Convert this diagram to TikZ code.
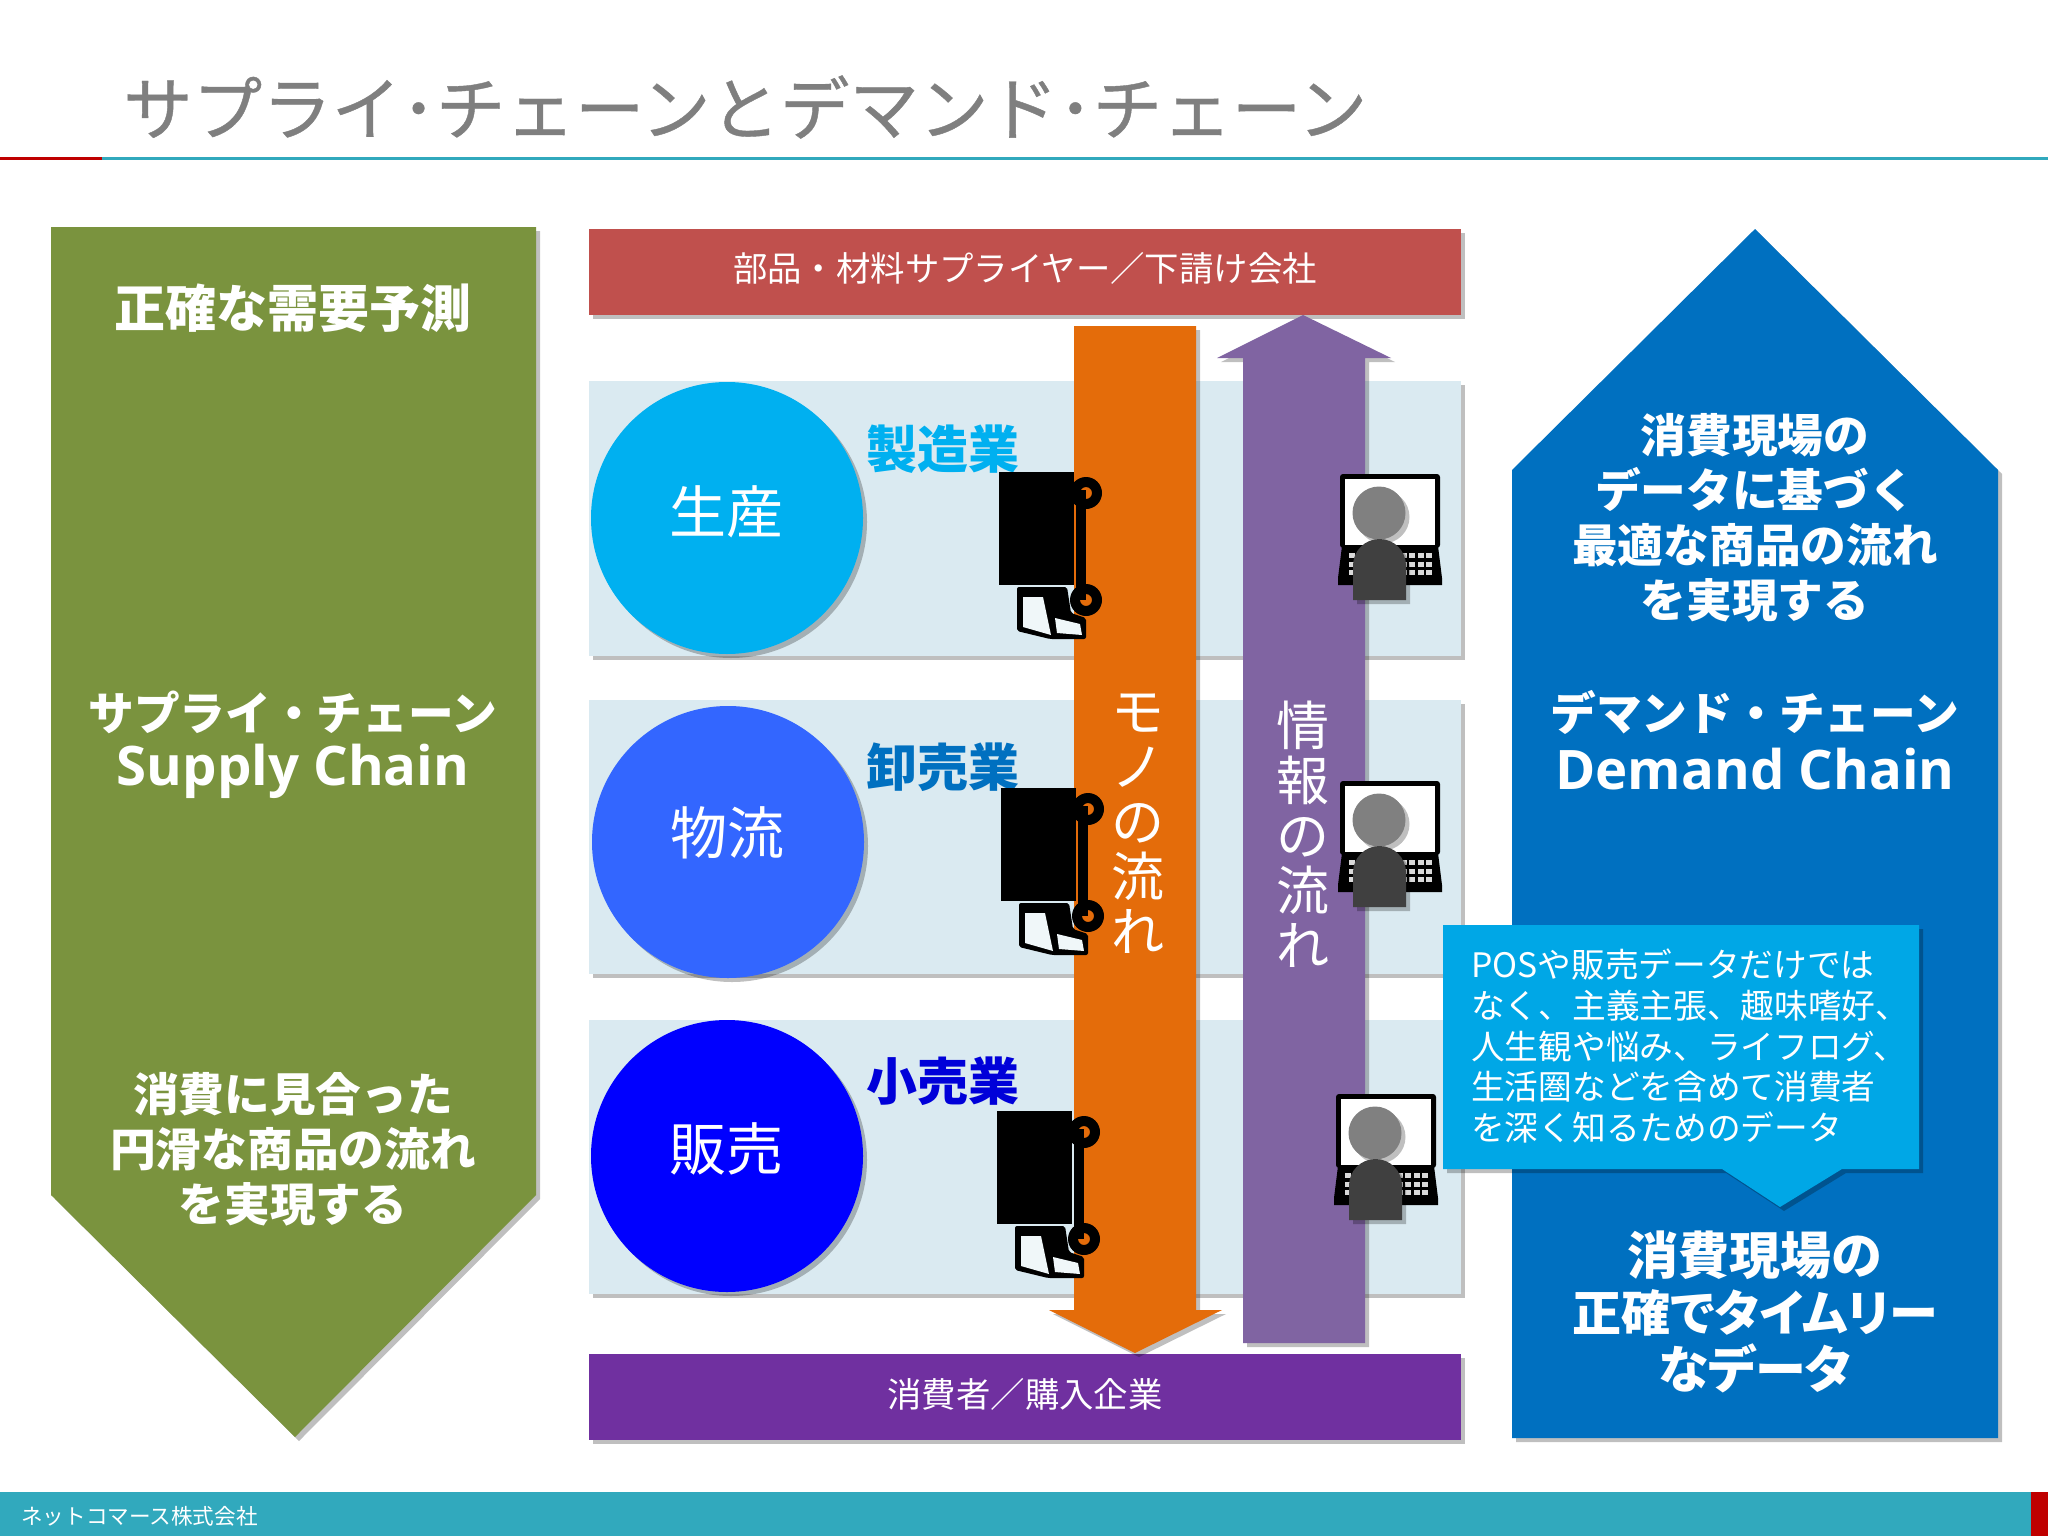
\documentclass[tikz,border=0pt]{standalone}
\usepackage{fontspec}
\setmainfont{Noto Sans CJK JP}
\newfontfamily\latb{Open Sans}
\newfontfamily\pf{Noto Sans CJK JP}[RawFeature=+palt]
\newfontfamily\titlef{Noto Sans CJK JP}[FakeBold=0.6]
\usetikzlibrary{shadows}
\definecolor{cgreen}{HTML}{7A933E}
\definecolor{cred}{HTML}{C0504D}
\definecolor{cpanel}{HTML}{DAEAF1}
\definecolor{cpurple}{HTML}{7030A0}
\definecolor{cblue}{HTML}{0070C0}
\definecolor{corange}{HTML}{E46C0A}
\definecolor{cviolet}{HTML}{8064A2}
\definecolor{ccall}{HTML}{00A7E6}
\definecolor{cteal}{HTML}{31A9BD}
\definecolor{ctitle}{HTML}{7F7F7F}
\definecolor{c1}{HTML}{00B0F0}
\definecolor{c2}{HTML}{3366FF}
\definecolor{c3}{HTML}{0000FF}
\tikzset{
  sh/.style={drop shadow={shadow xshift=4pt,shadow yshift=-4pt,fill=black,opacity=.25}},
  wt/.style={text=white,align=center,inner sep=0pt},
  big/.style={wt,font=\fontsize{45.7}{55}\selectfont\bfseries},
  low/.style={wt,font=\fontsize{51}{57}\selectfont\pf\bfseries},
  bar/.style={wt,font=\fontsize{34.4}{40}\selectfont},
  circ/.style={wt,font=\fontsize{57}{60}\selectfont},
  ind/.style={inner sep=0pt,font=\fontsize{51}{55}\selectfont\bfseries},
  vert/.style={wt,font=\fontsize{53}{55}\selectfont},
  latin/.style={wt,font=\fontsize{54.5}{55}\selectfont\latb\bfseries},
  truck/.pic={
    \fill[black] (999,472) rectangle (1074,585);
    \fill[black] (1076,490) rectangle (1086,600);
    \fill[black,even odd rule] (1086,493) circle (16) (1086,493) circle (6);
    \fill[black,even odd rule] (1086,600) circle (16) (1086,600) circle (6);
    \fill[black,rounded corners=2pt] (1017,587) -- (1067,587) -- (1071,613) -- (1086,618) -- (1086,639) -- (1050,639) -- (1017,631) -- cycle;
    \fill[cpanel!40!white] (1023,597) -- (1043,597) -- (1051,635) -- (1023,627) -- cycle;
    \fill[cpanel!40!white] (1055,618) -- (1080,624) -- (1082,635) -- (1057,633) -- cycle;
  },
  laptop/.pic={
    \fill[black,rounded corners=3pt] (1340,474) rectangle (1440,548);
    \fill[white] (1345,479) rectangle (1435,545);
    \fill[black] (1342,546) -- (1438,546) -- (1442,578) -- (1442,585) -- (1338,585) -- (1338,578) -- cycle;
    \foreach \yy in {553,562,570} {
      \foreach \c in {0,...,9} {
        \fill[white!85!black] ({1349+\c*8.6},\yy) rectangle ++(6,5);
      }
    }
    \fill[gray,sh] (1379,513) circle (26.5);
    \fill[black!75,sh] (1353,600) -- (1353,565.5) arc[start angle=180,end angle=360,radius=26.5] -- (1406,600) -- cycle;
  }
}
\begin{document}
\begin{tikzpicture}[x=1pt,y=-1pt]
\useasboundingbox (0,0) rectangle (2048,1536);
\fill[white] (0,0) rectangle (2048,1536);
% title
\node[anchor=west,inner sep=0pt,text=ctitle,font=\fontsize{69.5}{80}\selectfont\titlef] (title) at (123,107) {サプライ･チェーンとデマンド･チェーン};
\fill[cteal] (102,157) rectangle (2048,160);
\fill[red!75!black] (0,157) rectangle (102,160);
% footer
\fill[cteal] (0,1492) rectangle (2048,1536);
\fill[red!75!black] (2031,1492) rectangle (2048,1536);
\node[anchor=west,inner sep=0pt,text=white,font=\fontsize{21.6}{26}\selectfont] (foot) at (21,1516) {ネットコマース株式会社};
% left arrow
\fill[cgreen,sh] (51,227) -- (536,227) -- (536,1195) -- (295,1437) -- (51,1195) -- cycle;
\node[wt,font=\fontsize{51}{55}\selectfont\bfseries] (l1) at (293,308) {正確な需要予測};
\node[big] (l2) at (293,712) {サプライ・チェーン};
\node[latin] (l3) at (293,771) {Supply Chain};
\node[big] (l4) at (293,1149) {消費に見合った\\円滑な商品の流れ\\を実現する};
% bars
\fill[cred,sh] (589,229) rectangle (1461,315);
\node[bar] (b1) at (1025,268) {部品・材料サプライヤー／下請け会社};
\fill[cpurple,sh] (589,1354) rectangle (1461,1440);
\node[bar] (b2) at (1025,1394) {消費者／購入企業};
% panels
\fill[cpanel,sh] (589,381) rectangle (1461,656);
\fill[cpanel,sh] (589,700) rectangle (1461,974);
\fill[cpanel,sh] (589,1020) rectangle (1461,1294);
% circles
\fill[c1,sh] (727,518) circle (136);
\fill[c2,sh] (728,842) circle (136);
\fill[c3,sh] (727,1156) circle (136);
\node[circ] (c-a) at (726,512) {生産};
\node[circ] (c-b) at (727,833) {物流};
\node[circ] (c-c) at (726,1149) {販売};
\node[ind,text=c1] (i1) at (943,449) {製造業};
\node[ind,text=cblue] (i2) at (943,767) {卸売業};
\node[ind,text=blue!85!black] (i3) at (943,1081) {小売業};
% big arrows
\fill[corange,sh] (1074,326) -- (1196,326) -- (1196,1310) -- (1222,1310) -- (1135,1353) -- (1049,1310) -- (1074,1310) -- cycle;
\fill[cviolet,sh] (1243,1343) -- (1365,1343) -- (1365,358) -- (1391,358) -- (1303,315) -- (1217,358) -- (1243,358) -- cycle;
\node[vert] (v1) at (1138,824) {モ\\ノ\\の\\流\\れ};
\node[vert] (v2) at (1303,834) {情\\報\\の\\流\\れ};
% icons
\pic {truck};
\pic[xshift=2pt,yshift=-316pt] {truck};
\pic[xshift=-2pt,yshift=-639pt] {truck};
\pic {laptop};
\pic[yshift=-307pt] {laptop};
\pic[xshift=-4pt,yshift=-620pt] {laptop};
% right arrow
\fill[cblue,sh] (1755,229) -- (1998,470) -- (1998,1438) -- (1512,1438) -- (1512,470) -- cycle;
\node[big] (r1) at (1755,518) {消費現場の\\データに基づく\\最適な商品の流れ\\を実現する};
\node[big] (r2) at (1755,712) {デマンド・チェーン};
\node[latin] (r3) at (1755,769) {Demand Chain};
\node[low] (r4) at (1755,1312) {消費現場の\\{\fontsize{49}{57}\selectfont 正確でタイムリー}\\なデータ};
% callout
\fill[ccall,sh] (1443,925) -- (1919,925) -- (1919,1169) -- (1842,1169) -- (1780,1207) -- (1722,1169) -- (1443,1169) -- cycle;
\node[anchor=west,inner sep=0pt,text=white,align=left,font=\fontsize{33.7}{40.7}\selectfont] (call) at (1471,1046) {POSや販売データだけでは\\なく、主義主張、趣味嗜好、\\人生観や悩み、ライフログ、\\生活圏などを含めて消費者\\を深く知るためのデータ};
\end{tikzpicture}
\end{document}
